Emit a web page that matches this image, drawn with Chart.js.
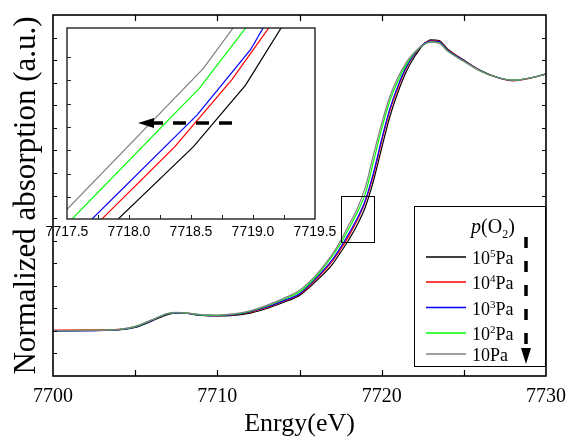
<!DOCTYPE html>
<html>
<head>
<meta charset="utf-8">
<script src="https://cdn.jsdelivr.net/npm/chart.js@4.4.1/dist/chart.umd.min.js"></script>
<style>
  body { margin: 0; background: #fff; }
  #wrap { position: relative; width: 569px; height: 438px; }
  #wrap canvas { position: absolute; left: 0; top: 0; }
</style>
</head>
<body>
<div id="wrap">
  <canvas id="mainChart" width="569" height="438"></canvas>
  <canvas id="insetChart" width="569" height="438"></canvas>
</div>
<script>
// energy grid (eV) shared by the five spectra
const energies = [7700, 7702, 7704, 7705, 7706, 7707, 7707.5, 7708, 7709, 7710,
  7711, 7712, 7713, 7714, 7715, 7716, 7717, 7717.5, 7718, 7718.5,
  7719, 7719.5, 7720, 7720.5, 7721, 7721.5, 7722, 7722.5, 7723, 7723.5,
  7724, 7725, 7726, 7727, 7728, 7729, 7730];

// normalized absorption, one array per p(O2)
const absPa5 = [0.000, 0.001, 0.004, 0.015, 0.043, 0.073, 0.079, 0.078, 0.069, 0.066,
  0.069, 0.079, 0.099, 0.126, 0.157, 0.220, 0.295, 0.348, 0.404, 0.468,
  0.548, 0.665, 0.810, 0.950, 1.060, 1.150, 1.215, 1.265, 1.290, 1.287,
  1.250, 1.200, 1.155, 1.125, 1.110, 1.120, 1.138];
const absPa4 = [0.003, 0.004, 0.007, 0.018, 0.046, 0.076, 0.081, 0.080, 0.071, 0.068,
  0.071, 0.083, 0.104, 0.131, 0.162, 0.228, 0.309, 0.362, 0.420, 0.489,
  0.572, 0.690, 0.840, 0.976, 1.080, 1.165, 1.225, 1.268, 1.286, 1.283,
  1.247, 1.198, 1.153, 1.123, 1.108, 1.119, 1.139];
const absPa3 = [0.000, 0.001, 0.005, 0.017, 0.046, 0.076, 0.080, 0.079, 0.070, 0.067,
  0.072, 0.085, 0.106, 0.133, 0.165, 0.233, 0.316, 0.370, 0.431, 0.497,
  0.578, 0.700, 0.850, 0.985, 1.088, 1.170, 1.228, 1.268, 1.284, 1.281,
  1.245, 1.197, 1.153, 1.124, 1.110, 1.120, 1.138];
const absPa2 = [0.001, 0.002, 0.006, 0.019, 0.048, 0.077, 0.081, 0.080, 0.071, 0.069,
  0.074, 0.087, 0.110, 0.139, 0.173, 0.240, 0.332, 0.386, 0.454, 0.522,
  0.607, 0.750, 0.895, 1.020, 1.110, 1.180, 1.232, 1.266, 1.281, 1.277,
  1.242, 1.195, 1.152, 1.124, 1.111, 1.121, 1.139];
const absPa1 = [0.001, 0.002, 0.007, 0.020, 0.049, 0.078, 0.082, 0.080, 0.072, 0.070,
  0.075, 0.089, 0.113, 0.143, 0.180, 0.247, 0.340, 0.400, 0.470, 0.539,
  0.635, 0.780, 0.920, 1.040, 1.125, 1.190, 1.235, 1.265, 1.280, 1.275,
  1.240, 1.195, 1.152, 1.124, 1.111, 1.121, 1.139];

// inset: zoom of the edge, [energy, absorption] pairs
const insetPa5 = [[7717.80, 0.362], [7718.52, 0.454], [7718.94, 0.520], [7719.30, 0.597]];
const insetPa4 = [[7717.68, 0.363], [7718.37, 0.454], [7718.83, 0.526], [7719.20, 0.595]];
const insetPa3 = [[7717.60, 0.363], [7718.55, 0.488], [7718.98, 0.558], [7719.15, 0.597]];
const insetPa2 = [[7717.45, 0.364], [7718.57, 0.517], [7719.02, 0.595]];
const insetPa1 = [[7717.40, 0.373], [7718.60, 0.538], [7718.92, 0.596]];

const seriesLabels = ['10^5Pa', '10^4Pa', '10^3Pa', '10^2Pa', '10Pa'];
const mainXLabels = [7700, 7710, 7720, 7730];
const insetXLabels = [7717.5, 7718.0, 7718.5, 7719.0, 7719.5];

const colors = ['#000000', '#ff0000', '#0000ff', '#00ff00', '#808080'];
const SERIF = '"Liberation Serif", "Times New Roman", serif';
const SANS = '"Liberation Sans", Arial, sans-serif';

Chart.defaults.color = '#000';
Chart.defaults.animation = false;

function drawFrame(chart, o) {
  const {ctx, chartArea: a} = chart;
  const x = chart.scales.x, y = chart.scales.y;
  ctx.save();
  ctx.strokeStyle = o.color;
  ctx.lineWidth = o.tickWidth;
  ctx.beginPath();
  x.ticks.forEach(t => {
    const px = Math.round(x.getPixelForValue(t.value)) + 0.5;
    if (px <= a.left + 2 || px >= a.right - 2) return;
    ctx.moveTo(px, a.bottom); ctx.lineTo(px, a.bottom - o.xLen);
    if (o.mirror) { ctx.moveTo(px, a.top); ctx.lineTo(px, a.top + o.xLen); }
  });
  y.ticks.forEach(t => {
    const py = Math.round(y.getPixelForValue(t.value)) + 0.5;
    if (py <= a.top + 2 || py >= a.bottom - 2) return;
    ctx.moveTo(a.left, py); ctx.lineTo(a.left + o.yLen, py);
    if (o.mirror) { ctx.moveTo(a.right, py); ctx.lineTo(a.right - o.yLen, py); }
  });
  ctx.stroke();
  ctx.lineWidth = o.width;
  ctx.strokeRect(a.left, a.top, a.right - a.left, a.bottom - a.top);
  ctx.restore();
}

function drawLegend(chart) {
  const ctx = chart.ctx;
  ctx.save();
  ctx.fillStyle = '#fff';
  ctx.fillRect(414, 206, 131, 160);
  ctx.strokeStyle = '#000';
  ctx.lineWidth = 1;
  ctx.strokeRect(414.5, 206.5, 131, 160);

  // title p(O2)
  const parts = [
    {t: 'p', f: 'italic 20px ' + SERIF, dy: 0},
    {t: '(O', f: '20px ' + SERIF, dy: 0},
    {t: '2', f: '12px ' + SERIF, dy: 5},
    {t: ')', f: '20px ' + SERIF, dy: 0}
  ];
  let w = 0;
  parts.forEach(p => { ctx.font = p.f; p.w = ctx.measureText(p.t).width; w += p.w; });
  let cx = 493 - w / 2;
  ctx.fillStyle = '#000';
  ctx.textBaseline = 'alphabetic';
  parts.forEach(p => { ctx.font = p.f; ctx.fillText(p.t, cx, 233 + p.dy); cx += p.w; });

  const rows = [257, 282, 307.5, 333, 354];
  seriesLabels.forEach((lbl, i) => {
    const ry = rows[i];
    ctx.strokeStyle = colors[i];
    ctx.lineWidth = 1.5;
    ctx.beginPath(); ctx.moveTo(426, ry); ctx.lineTo(466, ry); ctx.stroke();
    const m = lbl.match(/^(\d+)\^(\d+)(.*)$/);
    let tx = 472;
    ctx.fillStyle = '#000';
    if (m) {
      ctx.font = '18px ' + SERIF; ctx.fillText(m[1], tx, ry + 7); tx += ctx.measureText(m[1]).width;
      ctx.font = '11px ' + SERIF; ctx.fillText(m[2], tx, ry); tx += ctx.measureText(m[2]).width;
      ctx.font = '18px ' + SERIF; ctx.fillText(m[3], tx, ry + 7);
    } else {
      ctx.font = '18px ' + SERIF; ctx.fillText(lbl, tx, ry + 7);
    }
  });

  // dashed arrow, decreasing p(O2)
  ctx.strokeStyle = '#000';
  ctx.lineWidth = 3.5;
  ctx.setLineDash([11, 13]);
  ctx.beginPath(); ctx.moveTo(526, 237); ctx.lineTo(526, 350); ctx.stroke();
  ctx.setLineDash([]);
  ctx.beginPath(); ctx.moveTo(521, 348); ctx.lineTo(531, 348); ctx.lineTo(526, 364); ctx.closePath(); ctx.fill();

  // zoom box marking the inset region
  const x = chart.scales.x, y = chart.scales.y;
  const bx0 = x.getPixelForValue(7717.5), bx1 = x.getPixelForValue(7719.5);
  const by0 = y.getPixelForValue(0.596), by1 = y.getPixelForValue(0.391);
  ctx.lineWidth = 1;
  ctx.strokeRect(Math.round(bx0) + 0.5, Math.round(by0) + 0.5, Math.round(bx1 - bx0), Math.round(by1 - by0));
  ctx.restore();
}

const mainSets = [absPa5, absPa4, absPa3, absPa2, absPa1].map((vals, i) => ({
  label: seriesLabels[i],
  data: energies.map((e, k) => ({x: e, y: vals[k]})),
  borderColor: colors[i],
  borderWidth: 1.2,
  pointRadius: 0,
  cubicInterpolationMode: 'monotone',
  order: 5 - i
}));

new Chart(document.getElementById('mainChart'), {
  type: 'line',
  data: {datasets: mainSets},
  options: {
    responsive: false,
    devicePixelRatio: 1,
    layout: {padding: {top: 15, right: 23, left: 0, bottom: 0}},
    plugins: {legend: {display: false}, tooltip: {enabled: false}},
    scales: {
      x: {
        type: 'linear', min: 7700, max: 7730,
        grid: {display: false, drawTicks: false},
        border: {display: false},
        ticks: {
          stepSize: 5, autoSkip: false, maxRotation: 0, padding: 9,
          font: {family: SERIF, size: 20},
          callback: v => mainXLabels.includes(v) ? String(v) : ''
        },
        title: {display: true, text: 'Enrgy(eV)', font: {family: SERIF, size: 26, lineHeight: 1.1}, padding: {top: 0, bottom: 0}},
        afterFit: s => { s.height = 62; s.paddingLeft = 0; s.paddingRight = 0; }
      },
      y: {
        min: -0.2, max: 1.4,
        grid: {display: false, drawTicks: false},
        border: {display: false},
        ticks: {stepSize: 0.1, display: false},
        title: {display: true, text: 'Normalized absorption (a.u.)', font: {family: SERIF, size: 31}, padding: {top: 8, bottom: 0}},
        afterFit: s => { s.width = 53; s.paddingTop = 0; s.paddingBottom = 0; }
      }
    }
  },
  plugins: [{
    id: 'frameAndLegend',
    afterDraw: chart => {
      drawFrame(chart, {color: '#000', width: 1.6, tickWidth: 1.2, xLen: 6, yLen: 4, mirror: true});
      drawLegend(chart);
    }
  }]
});

const insetSets = [insetPa5, insetPa4, insetPa3, insetPa2, insetPa1].map((pts, i) => ({
  label: seriesLabels[i],
  data: pts.map(p => ({x: p[0], y: p[1]})),
  borderColor: colors[i],
  borderWidth: 1.2,
  pointRadius: 0,
  tension: 0,
  order: 5 - i
}));

new Chart(document.getElementById('insetChart'), {
  type: 'line',
  data: {datasets: insetSets},
  options: {
    responsive: false,
    devicePixelRatio: 1,
    layout: {padding: {top: 28, right: 254, left: 42, bottom: 194}},
    plugins: {legend: {display: false}, tooltip: {enabled: false}},
    scales: {
      x: {
        type: 'linear', min: 7717.5, max: 7719.5,
        grid: {display: false, drawTicks: false},
        border: {display: false},
        ticks: {
          stepSize: 0.25, autoSkip: false, maxRotation: 0, padding: 5,
          font: {family: SANS, size: 14},
          callback: v => insetXLabels.some(l => Math.abs(l - v) < 1e-6) ? v.toFixed(1) : ''
        },
        afterFit: s => { s.height = 25; s.paddingLeft = 0; s.paddingRight = 0; }
      },
      y: {
        min: 0.3764, max: 0.5813,
        grid: {display: false, drawTicks: false},
        border: {display: false},
        ticks: {stepSize: 0.025, display: false},
        afterFit: s => { s.width = 25; s.paddingTop = 0; s.paddingBottom = 0; }
      }
    }
  },
  plugins: [{
    id: 'insetBg',
    beforeDraw: chart => {
      const a = chart.chartArea;
      chart.ctx.save();
      chart.ctx.fillStyle = '#fff';
      chart.ctx.fillRect(a.left, a.top, a.right - a.left, a.bottom - a.top);
      chart.ctx.restore();
    },
    afterDraw: chart => {
      drawFrame(chart, {color: '#222', width: 1.4, tickWidth: 1, xLen: 4, yLen: 4, mirror: false});
      // dashed arrow pointing to lower energy
      const ctx = chart.ctx;
      ctx.save();
      ctx.strokeStyle = '#000';
      ctx.fillStyle = '#000';
      ctx.lineWidth = 3.5;
      ctx.setLineDash([13, 10]);
      ctx.beginPath(); ctx.moveTo(232, 123); ctx.lineTo(152, 123); ctx.stroke();
      ctx.setLineDash([]);
      ctx.beginPath(); ctx.moveTo(154, 118); ctx.lineTo(154, 128); ctx.lineTo(138, 123); ctx.closePath(); ctx.fill();
      ctx.restore();
    }
  }]
});
</script>
</body>
</html>
